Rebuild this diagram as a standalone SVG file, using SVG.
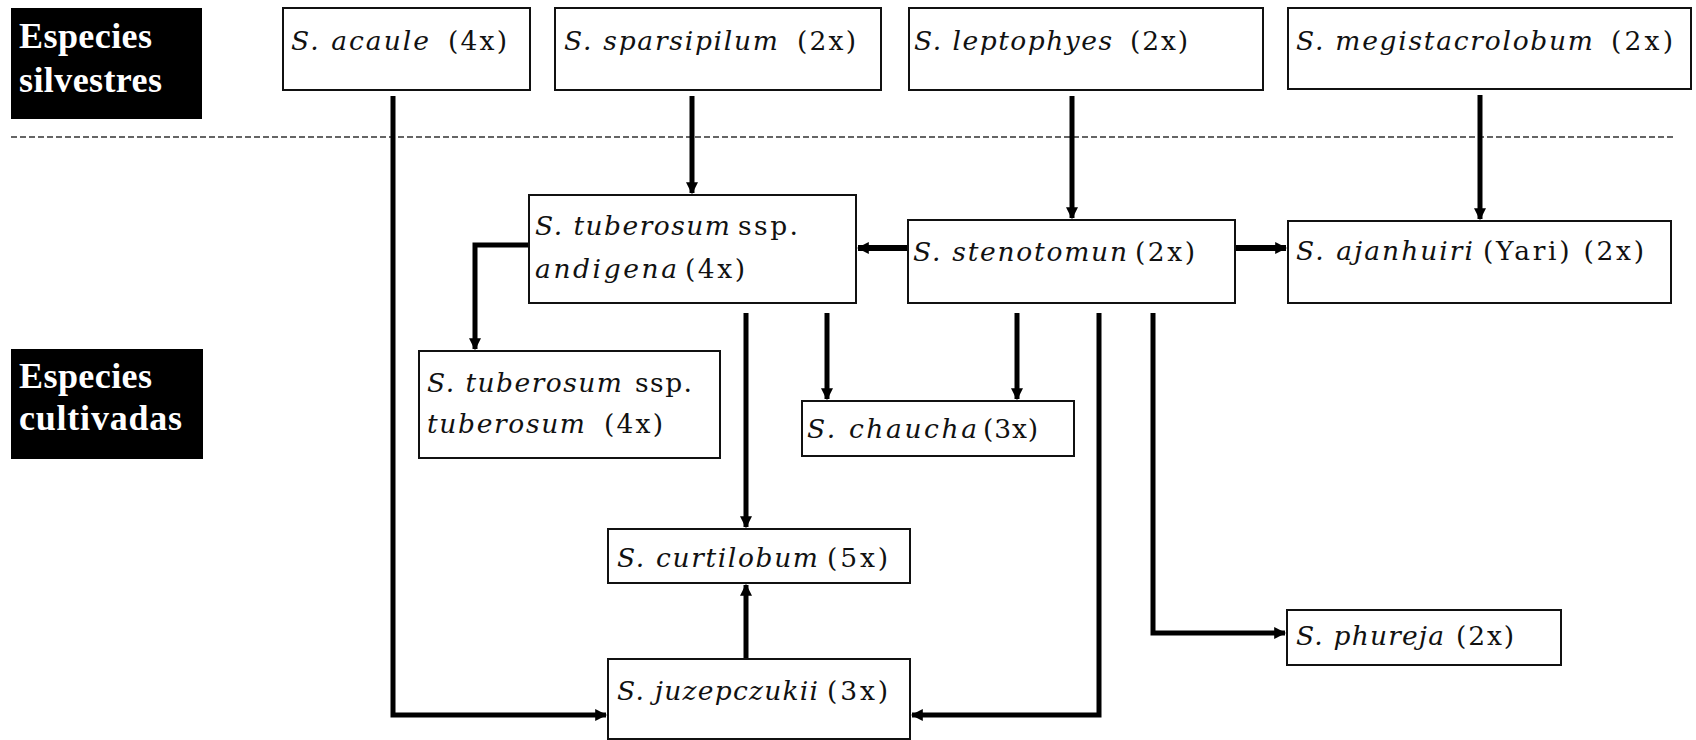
<svg xmlns="http://www.w3.org/2000/svg" width="1696" height="740" viewBox="0 0 1696 740">
<style>
.bg{fill:#fff}
.box{fill:#fff;stroke:#111;stroke-width:2}
.hdr{fill:#000}
.hdt{font-family:"Liberation Serif",serif;font-weight:bold;font-size:36px;fill:#fff}
.t{font-family:"DejaVu Serif",serif;font-size:26.5px;fill:#111}
.it{font-style:italic}
.c{fill:none;stroke:#000;stroke-width:5;stroke-linejoin:miter}
.h{stroke-width:6}
.dash{stroke:#333;stroke-width:1.6;stroke-dasharray:6 3;fill:none}
</style>
<defs>
<marker id="ah" viewBox="0 0 10 10" refX="9" refY="5" markerWidth="12" markerHeight="12" markerUnits="userSpaceOnUse" orient="auto">
<path d="M0,0 L10,5 L0,10 z" fill="#000"/>
</marker>
</defs>
<rect class="bg" x="0" y="0" width="1696" height="740"/>

<g id="label-silvestres">
<rect class="hdr" x="11" y="8" width="191" height="111"/>
<text class="hdt" x="19" y="48" textLength="133">Especies</text>
<text class="hdt" x="19" y="92" textLength="143">silvestres</text>
</g>
<g id="label-cultivadas">
<rect class="hdr" x="11" y="349" width="192" height="110"/>
<text class="hdt" x="19" y="388" textLength="133">Especies</text>
<text class="hdt" x="19" y="430" textLength="163">cultivadas</text>
</g>

<line class="dash" x1="11" y1="137" x2="1673" y2="137"/>

<g id="connectors">
<path class="c" d="M393,96 V715 H606" marker-end="url(#ah)"/>
<path class="c" d="M692,96 V193" marker-end="url(#ah)"/>
<path class="c" d="M1072,96 V218" marker-end="url(#ah)"/>
<path class="c" d="M1480,95 V219" marker-end="url(#ah)"/>
<path class="c h" d="M908,248 H858" marker-end="url(#ah)"/>
<path class="c h" d="M1235,248 H1286" marker-end="url(#ah)"/>
<path class="c" d="M529,245 H475 V349" marker-end="url(#ah)"/>
<path class="c" d="M746,313 V527" marker-end="url(#ah)"/>
<path class="c" d="M827,313 V399" marker-end="url(#ah)"/>
<path class="c" d="M1017,313 V399" marker-end="url(#ah)"/>
<path class="c" d="M1099,313 V715 H912" marker-end="url(#ah)"/>
<path class="c" d="M1153,313 V633 H1285" marker-end="url(#ah)"/>
<path class="c" d="M746,659 V585" marker-end="url(#ah)"/>
</g>

<g id="acaule">
<rect class="box" x="283" y="8" width="247" height="82"/>
<text class="t" y="50"><tspan class="it" x="291" textLength="138">S. acaule</tspan><tspan x="448" textLength="59">(4x)</tspan></text>
</g>
<g id="sparsipilum">
<rect class="box" x="555" y="8" width="326" height="82"/>
<text class="t" y="50"><tspan class="it" x="564" textLength="214">S. sparsipilum</tspan><tspan x="797" textLength="59">(2x)</tspan></text>
</g>
<g id="leptophyes">
<rect class="box" x="909" y="8" width="354" height="82"/>
<text class="t" y="50"><tspan class="it" x="914" textLength="198">S. leptophyes</tspan><tspan x="1130" textLength="58">(2x)</tspan></text>
</g>
<g id="megistacrolobum">
<rect class="box" x="1288" y="8" width="403" height="81"/>
<text class="t" y="50"><tspan class="it" x="1296" textLength="297">S. megistacrolobum</tspan><tspan x="1611" textLength="62">(2x)</tspan></text>
</g>

<g id="andigena">
<rect class="box" x="529" y="195" width="327" height="108"/>
<text class="t" y="235"><tspan class="it" x="535" textLength="195">S. tuberosum</tspan><tspan x="738" textLength="60">ssp.</tspan></text>
<text class="t" y="278"><tspan class="it" x="535" textLength="142">andigena</tspan><tspan x="685" textLength="60">(4x)</tspan></text>
</g>
<g id="stenotomun">
<rect class="box" x="908" y="220" width="327" height="83"/>
<text class="t" y="261"><tspan class="it" x="913" textLength="214">S. stenotomun</tspan><tspan x="1135" textLength="60">(2x)</tspan></text>
</g>
<g id="ajanhuiri">
<rect class="box" x="1288" y="221" width="383" height="82"/>
<text class="t" y="260"><tspan class="it" x="1296" textLength="177">S. ajanhuiri</tspan><tspan x="1483" textLength="161">(Yari) (2x)</tspan></text>
</g>
<g id="tuberosum">
<rect class="box" x="419" y="351" width="301" height="107"/>
<text class="t" y="392"><tspan class="it" x="427" textLength="195">S. tuberosum</tspan><tspan x="635" textLength="57">ssp.</tspan></text>
<text class="t" y="433"><tspan class="it" x="427" textLength="158">tuberosum</tspan><tspan x="604" textLength="59">(4x)</tspan></text>
</g>
<g id="chaucha">
<rect class="box" x="802" y="401" width="272" height="55"/>
<text class="t" y="438"><tspan class="it" x="807" textLength="170">S. chaucha</tspan><tspan x="983" textLength="55">(3x)</tspan></text>
</g>
<g id="curtilobum">
<rect class="box" x="608" y="529" width="302" height="54"/>
<text class="t" y="567"><tspan class="it" x="617" textLength="201">S. curtilobum</tspan><tspan x="827" textLength="61">(5x)</tspan></text>
</g>
<g id="juzepczukii">
<rect class="box" x="608" y="659" width="302" height="80"/>
<text class="t" y="700"><tspan class="it" x="617" textLength="201">S. juzepczukii</tspan><tspan x="827" textLength="61">(3x)</tspan></text>
</g>
<g id="phureja">
<rect class="box" x="1287" y="610" width="274" height="55"/>
<text class="t" y="645"><tspan class="it" x="1296" textLength="148">S. phureja</tspan><tspan x="1456" textLength="58">(2x)</tspan></text>
</g>
</svg>
